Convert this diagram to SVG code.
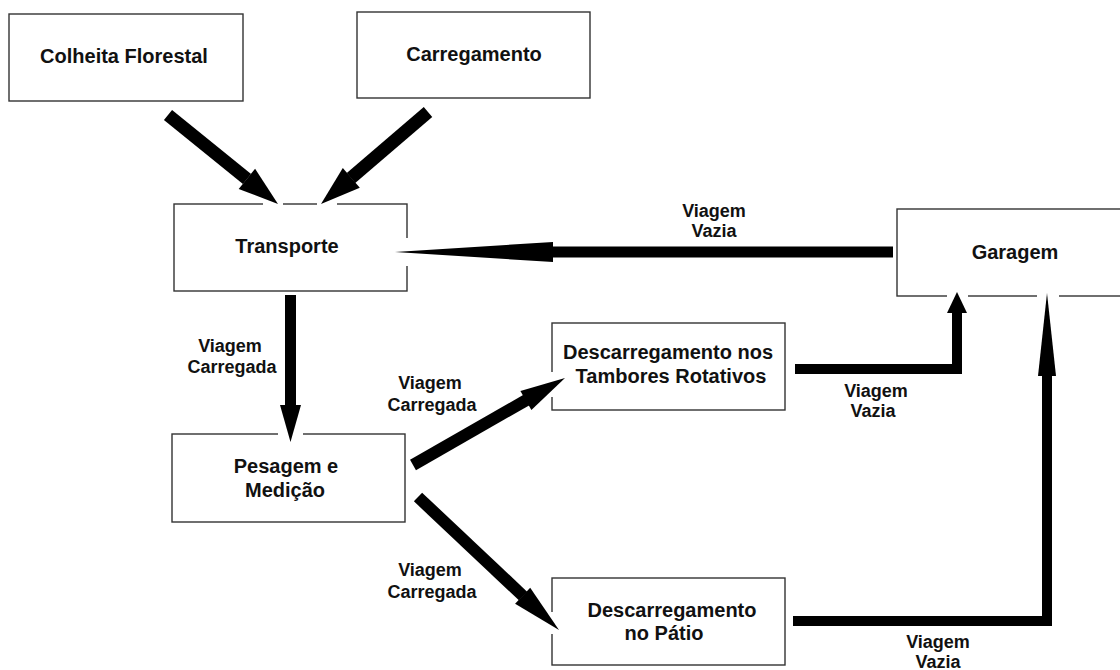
<svg xmlns="http://www.w3.org/2000/svg" width="1120" height="670" viewBox="0 0 1120 670">
<style>
.box{fill:#fff;stroke:#333;stroke-width:1.4}
.t{font-family:"Liberation Sans",Arial,sans-serif;font-weight:bold;font-size:20px;fill:#111;text-anchor:middle}
.l{font-family:"Liberation Sans",Arial,sans-serif;font-weight:bold;font-size:18px;fill:#111;text-anchor:middle}
.sh{stroke:#000;fill:none;stroke-linecap:butt;stroke-linejoin:miter}
.hd{fill:#000}
.gap{fill:#fff}
</style>
<rect width="1120" height="670" fill="#fff"/>
<g id="n-colheita"><rect class="box" x="9" y="14" width="234" height="87"/><text class="t" x="124" y="63">Colheita Florestal</text></g>
<g id="n-carregamento"><rect class="box" x="357" y="12" width="233" height="86"/><text class="t" x="474" y="61">Carregamento</text></g>
<g id="n-transporte"><rect class="box" x="174" y="204" width="233" height="87"/><text class="t" x="287" y="253">Transporte</text></g>
<g id="n-garagem"><rect class="box" x="897" y="209" width="240" height="87"/><text class="t" x="1015" y="259">Garagem</text></g>
<g id="n-pesagem"><rect class="box" x="172" y="434" width="233" height="88"/><text class="t" x="286" y="473">Pesagem e</text><text class="t" x="285" y="497">Medição</text></g>
<g id="n-tambores"><rect class="box" x="552" y="323" width="233" height="87"/><text class="t" x="668" y="359">Descarregamento nos</text><text class="t" x="671" y="383">Tambores Rotativos</text></g>
<g id="n-patio"><rect class="box" x="552" y="578" width="233" height="87"/><text class="t" x="672" y="617">Descarregamento</text><text class="t" x="664" y="640">no Pátio</text></g>
<g id="connectors">
<rect class="gap" x="263" y="201" width="20" height="6"/>
<rect class="gap" x="317" y="201" width="20" height="6"/>
<rect class="gap" x="404" y="238" width="6" height="28"/>
<rect class="gap" x="278" y="431" width="25" height="6"/>
<rect class="gap" x="549" y="372" width="6" height="25"/>
<rect class="gap" x="549" y="612" width="6" height="22"/>
<rect class="gap" x="947" y="293" width="21" height="6"/>
<rect class="gap" x="1037" y="293" width="22" height="6"/>
<line class="sh" x1="168" y1="115" x2="247" y2="179" stroke-width="13"/>
<polygon class="hd" points="278,204 238.7,188.9 255.1,168.7"/>
<line class="sh" x1="428" y1="112" x2="351" y2="178" stroke-width="13"/>
<polygon class="hd" points="321,204 342.8,168 359.8,187.8"/>
<line class="sh" x1="290.5" y1="295" x2="290.5" y2="406" stroke-width="11"/>
<polygon class="hd" points="280,405 301,405 290.5,442"/>
<line class="sh" x1="893" y1="252" x2="552" y2="252" stroke-width="11"/>
<polygon class="hd" points="553,242 553,262 395,252"/>
<line class="sh" x1="413" y1="465" x2="526.5" y2="400" stroke-width="12"/>
<polygon class="hd" points="565,378 531.4,410 520.4,390.9"/>
<line class="sh" x1="418" y1="497" x2="523" y2="596" stroke-width="12"/>
<polygon class="hd" points="559,630 515.1,603.7 530.2,587.7"/>
<polyline class="sh" points="795,369 957,369 957,312" stroke-width="10"/>
<polygon class="hd" points="947,313 967,313 957,292"/>
<polyline class="sh" points="793,621 1047,621 1047,375" stroke-width="10"/>
<polygon class="hd" points="1038,376 1056,376 1047,293"/>
</g>
<g id="labels">
<text class="l" x="230" y="352">Viagem</text><text class="l" x="232" y="373">Carregada</text>
<text class="l" x="430" y="389">Viagem</text><text class="l" x="432" y="411">Carregada</text>
<text class="l" x="430" y="576">Viagem</text><text class="l" x="432" y="598">Carregada</text>
<text class="l" x="714" y="217">Viagem</text><text class="l" x="714" y="237">Vazia</text>
<text class="l" x="876" y="397">Viagem</text><text class="l" x="873" y="417">Vazia</text>
<text class="l" x="938" y="648">Viagem</text><text class="l" x="938" y="668">Vazia</text>
</g>
</svg>
